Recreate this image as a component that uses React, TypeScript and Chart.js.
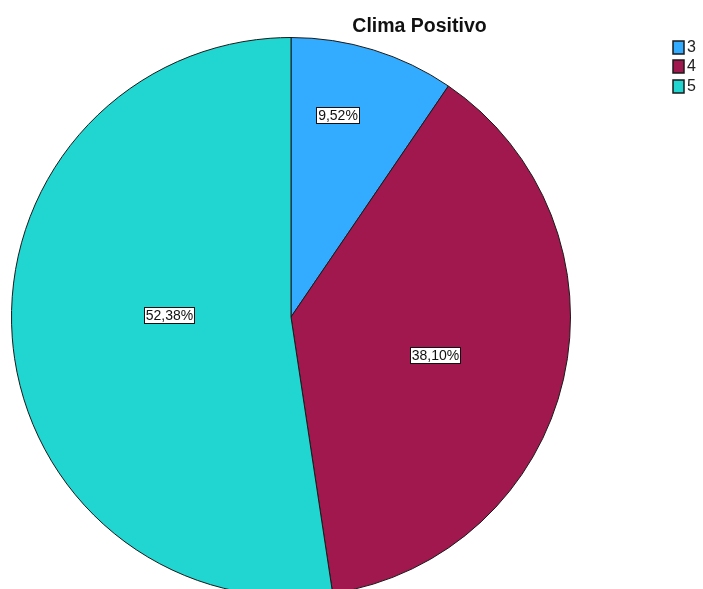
import React, { useEffect, useRef } from "react";
import { Chart, registerables } from "chart.js";

Chart.register(...registerables);

const title = "Clima Positivo";
const categories = ["3", "4", "5"];
const percentages = [9.52, 38.1, 52.38];
const colors = ["#33abfe", "#a0184e", "#21d6d0"];

const W = 703;
const H = 620;

const fmt = (v: number) => v.toFixed(2).replace(".", ",") + "%";

// label placement: radial fraction and angle tweak (degrees) per slice
const labelRadial = [0.743, 0.534, 0.4375];
const labelAngleTweak = [-4.3, 1.9, 5.2];

const overlayPlugin = {
  id: "overlay",
  afterDraw(chart: any) {
    const ctx = chart.ctx as CanvasRenderingContext2D;
    const meta = chart.getDatasetMeta(0);
    ctx.save();
    // slice labels
    ctx.font = "14px 'Liberation Sans', Arial, sans-serif";
    ctx.textBaseline = "middle";
    ctx.textAlign = "center";
    meta.data.forEach((arc: any, i: number) => {
      const mid = (arc.startAngle + arc.endAngle) / 2 + (labelAngleTweak[i] * Math.PI) / 180;
      const r = arc.outerRadius * labelRadial[i];
      const x = arc.x + Math.cos(mid) * r;
      const y = arc.y + Math.sin(mid) * r;
      const txt = fmt(percentages[i]);
      const tw = ctx.measureText(txt).width;
      const bw = Math.round(tw + 3);
      const bh = 16;
      const bx = Math.round(x - bw / 2) + 0.5;
      const by = Math.round(y - bh / 2) + 0.5;
      ctx.fillStyle = "#ffffff";
      ctx.fillRect(bx, by, bw, bh);
      ctx.strokeStyle = "#111111";
      ctx.lineWidth = 1;
      ctx.strokeRect(bx, by, bw, bh);
      ctx.fillStyle = "#111111";
      ctx.fillText(txt, bx + bw / 2, by + bh / 2 + 0.5);
    });
    // title
    ctx.font = "bold 19.5px 'Liberation Sans', Arial, sans-serif";
    ctx.textAlign = "center";
    ctx.textBaseline = "alphabetic";
    ctx.fillStyle = "#111111";
    ctx.fillText(title, 419.5, 32);
    // legend
    ctx.textAlign = "left";
    ctx.textBaseline = "middle";
    ctx.font = "16px 'Liberation Sans Narrow', 'Liberation Sans', Arial, sans-serif";
    categories.forEach((c, i) => {
      const sy = 41 + i * 19.3;
      ctx.fillStyle = colors[i];
      ctx.fillRect(673, Math.round(sy), 11, 13);
      ctx.strokeStyle = "#1a1a1a";
      ctx.lineWidth = 1.5;
      ctx.strokeRect(673, Math.round(sy), 11, 13);
      ctx.fillStyle = "#222222";
      ctx.fillText(c, 687, Math.round(sy) + 7);
    });
    ctx.restore();
  },
};

export default function App() {
  const ref = useRef<HTMLCanvasElement | null>(null);
  useEffect(() => {
    if (!ref.current) return;
    const chart = new Chart(ref.current, {
      type: "pie",
      data: {
        labels: categories,
        datasets: [
          {
            data: percentages,
            backgroundColor: colors,
            borderColor: "#1a1a1a",
            borderWidth: 1,
          },
        ],
      },
      options: {
        responsive: false,
        animation: false,
        devicePixelRatio: 1,
        layout: { padding: { left: 11, top: 37, right: 132, bottom: 23 } },
        plugins: {
          legend: { display: false },
          title: { display: false },
          tooltip: { enabled: false },
        },
      },
      plugins: [overlayPlugin],
    });
    return () => chart.destroy();
  }, []);
  return (
    <div
      style={{
        position: "fixed",
        left: 0,
        top: 0,
        width: W,
        height: 589,
        overflow: "hidden",
        background: "#ffffff",
      }}
    >
      <canvas ref={ref} width={W} height={H} style={{ display: "block" }} />
    </div>
  );
}
